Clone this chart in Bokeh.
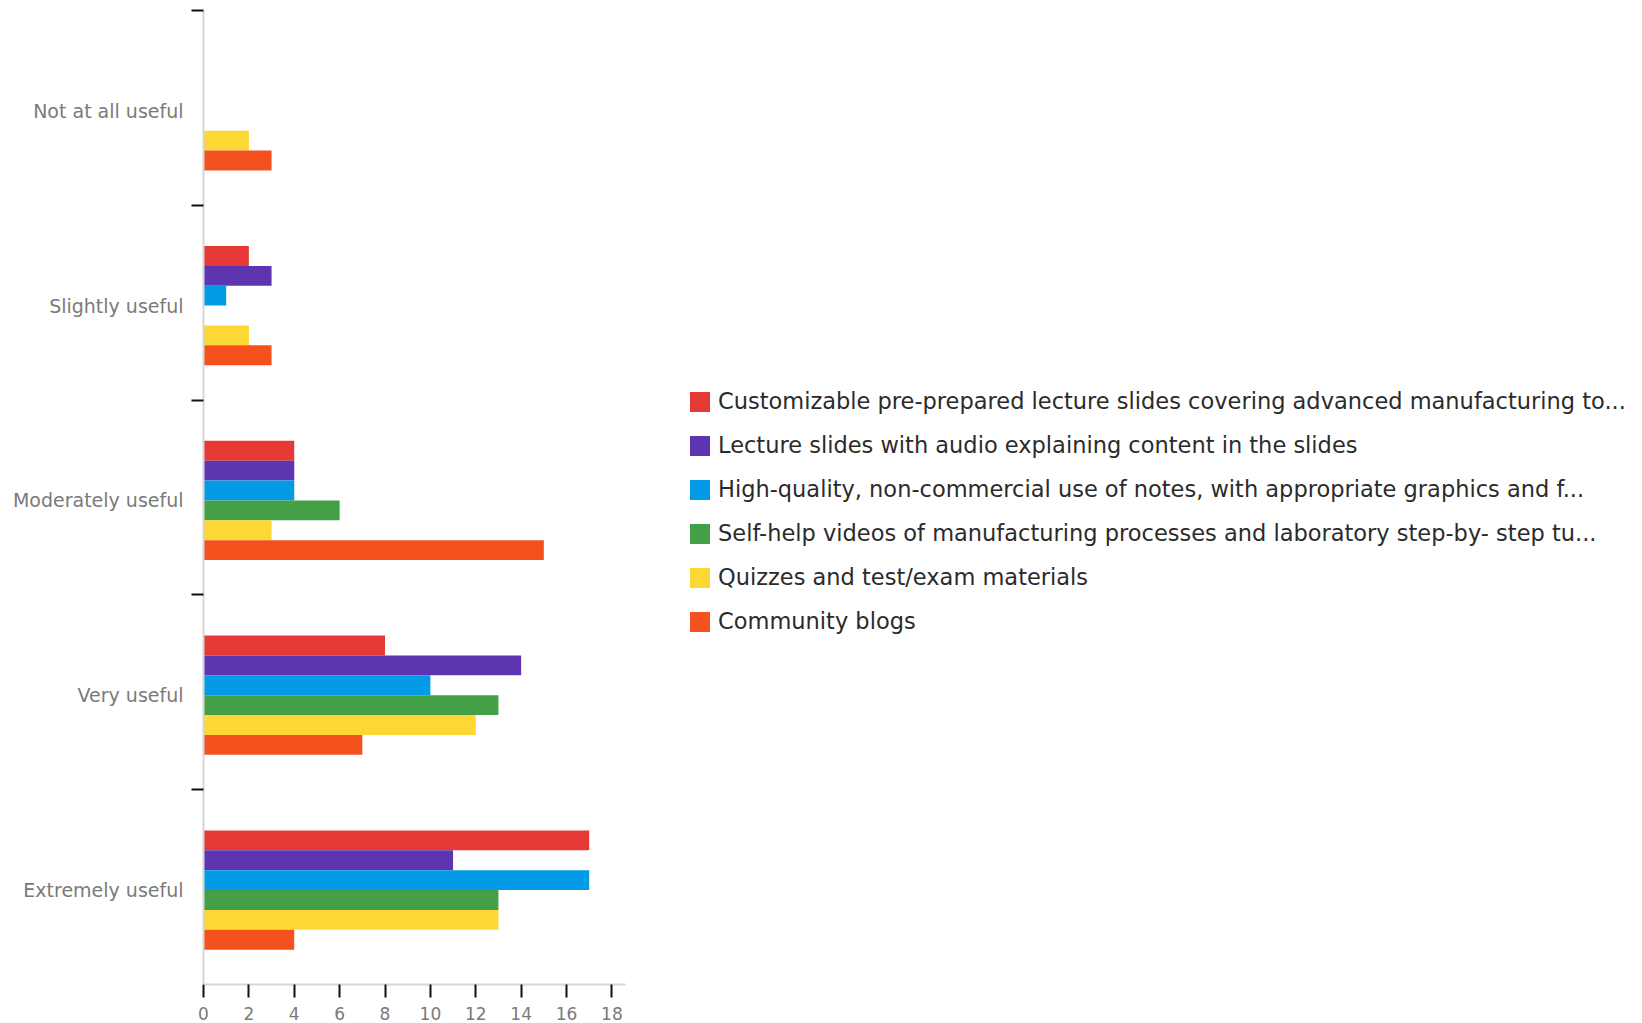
from bokeh.plotting import figure
from bokeh.models import ColumnDataSource, FixedTicker, Legend, LegendItem
from bokeh.embed import file_html
from bokeh.resources import INLINE

categories = ["Extremely useful", "Very useful", "Moderately useful", "Slightly useful", "Not at all useful"]
series = [
    "Customizable pre-prepared lecture slides covering advanced manufacturing to...",
    "Lecture slides with audio explaining content in the slides",
    "High-quality, non-commercial use of notes, with appropriate graphics and f...",
    "Self-help videos of manufacturing processes and laboratory step-by- step tu...",
    "Quizzes and test/exam materials",
    "Community blogs",
]
colors = ["#e53935", "#5e35b1", "#039be5", "#43a047", "#fdd835", "#f4511e"]
# values per series, in the order of categories above
customizable = [17, 8, 4, 2, 0]
lecture_audio = [11, 14, 4, 3, 0]
notes = [17, 10, 4, 1, 0]
videos = [13, 13, 6, 0, 0]
quizzes = [13, 12, 3, 2, 2]
blogs = [4, 7, 15, 3, 3]
values = [customizable, lecture_audio, notes, videos, quizzes, blogs]
x_ticks = [0, 2, 4, 6, 8, 10, 12, 14, 16, 18]
x_axis_end = 18.6

FONT = "DejaVu Sans"
n = len(series)
bar_h = 0.102
center_shift = -0.015  # group sits slightly below the band centre

W, H = 1642, 1023
LEFT, TOP, BOTTOM = 203, 10, 39
axis_px = 422  # pixel length of the visible x axis
frame_w = W - LEFT
x_end = x_axis_end * frame_w / axis_px

p = figure(width=W, height=H, output_backend="svg", toolbar_location=None,
           x_range=(0, x_end), y_range=(0, len(categories)),
           min_border_left=LEFT, min_border_right=0, min_border_top=TOP, min_border_bottom=BOTTOM)
p.outline_line_color = None
p.xgrid.visible = False
p.ygrid.visible = False

centers = [k + 0.5 + center_shift for k in range(len(categories))]

items = []
for i, (name, col, vals) in enumerate(zip(series, colors, values)):
    offset = (n - 1) / 2 * bar_h - i * bar_h
    ys = [c + offset for c in centers]
    src = ColumnDataSource(dict(y=ys, right=vals))
    r = p.hbar(y="y", right="right", left=0, height=bar_h, source=src,
               fill_color=col, line_color=None)
    items.append(LegendItem(label=name, renderers=[r]))

legend = Legend(items=items, location=(484, 350))
legend.padding = 0
legend.margin = 0
legend.spacing = 18
legend.glyph_width = 25
legend.glyph_height = 25
legend.label_height = 21
legend.label_standoff = 6
legend.label_text_font = FONT
legend.label_text_font_size = "22.5px"
legend.label_text_color = "#2b2b2b"
legend.label_text_baseline = "middle"
legend.border_line_color = None
legend.background_fill_alpha = 0
p.add_layout(legend, "center")

# y axis
ya = p.yaxis[0]
ya.ticker = FixedTicker(ticks=centers,
                        minor_ticks=[k + 1 for k in range(len(categories))])
ya.major_label_overrides = {c: name for c, name in zip(centers, categories)}
ya.major_tick_out = 0
ya.major_tick_in = 0
ya.minor_tick_out = 12
ya.minor_tick_in = 0
ya.minor_tick_line_color = "#111111"
ya.minor_tick_line_width = 2
ya.axis_line_color = "#d6d6d6"
ya.axis_line_width = 2
ya.major_label_standoff = 8
ya.major_label_text_font = FONT
ya.major_label_text_font_size = "19px"
ya.major_label_text_color = "#7a7a7a"

# x axis
xa = p.xaxis[0]
xa.ticker = FixedTicker(ticks=x_ticks)
xa.bounds = (0, x_axis_end)
xa.major_tick_out = 13
xa.major_tick_in = 0
xa.major_tick_line_color = "#111111"
xa.major_tick_line_width = 2
xa.minor_tick_line_color = None
xa.axis_line_color = "#d6d6d6"
xa.axis_line_width = 2
xa.major_label_standoff = 9
xa.major_label_text_font = FONT
xa.major_label_text_font_size = "17px"
xa.major_label_text_color = "#7a7a7a"

open("out.html", "w").write(file_html(p, INLINE))
